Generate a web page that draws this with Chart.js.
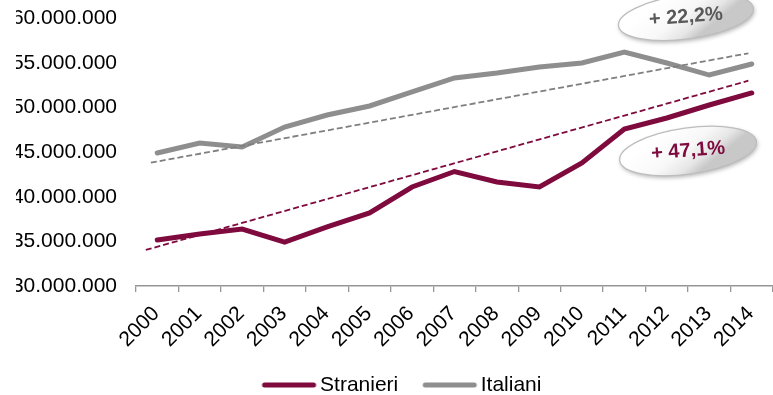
<!DOCTYPE html>
<html lang="it">
<head>
<meta charset="utf-8">
<title>Stranieri e Italiani 2000-2014</title>
<script src="https://cdn.jsdelivr.net/npm/chart.js@4.4.1/dist/chart.umd.min.js"></script>
<style>
html,body{margin:0;padding:0;background:#ffffff;overflow:hidden;}
#wrap{width:773px;height:395px;}
canvas{display:block;}
</style>
</head>
<body>
<div id="wrap"><canvas id="chart" width="773" height="395"></canvas></div>
<script>
// ---- data ----
const years = ['2000','2001','2002','2003','2004','2005','2006','2007','2008','2009','2010','2011','2012','2013','2014'];
const stranieri = [35160000, 35830000, 36390000, 34930000, 36620000, 38190000, 41100000, 42840000, 41660000, 41100000, 43790000, 47610000, 48840000, 50300000, 51650000];
const italiani  = [44920000, 46040000, 45590000, 47830000, 49180000, 50190000, 51760000, 53330000, 53890000, 54560000, 55010000, 56240000, 55010000, 53660000, 54900000];
const trendStranieri = [{x: -0.27, y: 34040000}, {x: 13.92, y: 53020000}];
const trendItaliani  = [{x: -0.15, y: 43830000}, {x: 13.92, y: 56100000}];
const seriesNames = ['Stranieri', 'Italiani'];
const growthLabels = ['+ 22,2%', '+ 47,1%'];
const yMin = 30000000, yMax = 60000000, yStep = 5000000;

// ---- styles ----
const MAROON = '#7E0A3E';
const GREY = '#8E8E8E';
const FONT = "'Liberation Sans', Arial, sans-serif";

function fmt(v) {
  return String(Math.round(v)).replace(/\B(?=(\d{3})+(?!\d))/g, '.');
}

function legendLine(color) {
  const c = document.createElement('canvas');
  c.width = 80; c.height = 10;
  const g = c.getContext('2d');
  g.strokeStyle = color; g.lineWidth = 5; g.lineCap = 'round';
  g.beginPath(); g.moveTo(26, 5); g.lineTo(75, 5); g.stroke();
  return c;
}
const legendMarks = [legendLine(MAROON), legendLine(GREY)];

const badges = [
  {text: growthLabels[0], color: '#595959', at: [12.45, 60170000], rx: 68, ry: 22, tilt: -0.13, textTilt: -0.08},
  {text: growthLabels[1], color: MAROON,   at: [12.50, 45140000], rx: 69, ry: 23, tilt: -0.14, textTilt: -0.08}
];

const badgePlugin = {
  id: 'badges',
  afterDatasetsDraw(chart) {
    const ctx = chart.ctx;
    const xs = chart.scales.xt, ys = chart.scales.y;
    badges.forEach(b => {
      const cx = xs.getPixelForValue(b.at[0]);
      const cy = ys.getPixelForValue(b.at[1]);
      ctx.save();
      ctx.translate(cx, cy);
      ctx.rotate(b.tilt);
      ctx.save();
      ctx.shadowColor = 'rgba(0,0,0,0.30)';
      ctx.shadowBlur = 4; ctx.shadowOffsetX = 1; ctx.shadowOffsetY = 2;
      ctx.beginPath();
      ctx.ellipse(0, 0, b.rx, b.ry, 0, 0, Math.PI * 2);
      const g = ctx.createLinearGradient(-b.rx * 0.3, -b.ry, b.rx * 0.1, b.ry);
      g.addColorStop(0, '#ffffff');
      g.addColorStop(0.5, '#f8f8f8');
      g.addColorStop(0.8, '#e6e6e6');
      g.addColorStop(1, '#c8c8c8');
      ctx.fillStyle = g;
      ctx.fill();
      ctx.restore();
      ctx.lineWidth = 1.3;
      ctx.strokeStyle = '#bdbdbd';
      ctx.stroke();
      ctx.rotate(b.textTilt - b.tilt);
      ctx.fillStyle = b.color;
      ctx.font = 'bold 20px ' + FONT;
      ctx.textAlign = 'center';
      ctx.textBaseline = 'middle';
      ctx.fillText(b.text, 0, 0);
      ctx.restore();
    });
  }
};

Chart.defaults.font.family = FONT;

new Chart(document.getElementById('chart'), {
  type: 'line',
  data: {
    labels: years,
    datasets: [
      {label: seriesNames[0], data: stranieri, borderColor: MAROON, backgroundColor: MAROON,
       borderWidth: 5, pointRadius: 0, tension: 0, borderCapStyle: 'round', borderJoinStyle: 'miter', order: 2},
      {label: seriesNames[1], data: italiani, borderColor: GREY, backgroundColor: GREY,
       borderWidth: 5, pointRadius: 0, tension: 0, borderCapStyle: 'round', borderJoinStyle: 'miter', order: 3},
      {label: 'trend-s', data: trendStranieri, xAxisID: 'xt', borderColor: MAROON,
       borderWidth: 1.8, borderDash: [6, 3], pointRadius: 0, order: 1},
      {label: 'trend-i', data: trendItaliani, xAxisID: 'xt', borderColor: '#7f7f7f',
       borderWidth: 1.8, borderDash: [6, 3], pointRadius: 0, order: 1}
    ]
  },
  options: {
    responsive: false,
    animation: false,
    events: [],
    layout: {padding: {top: 18.5, left: 16, right: 0, bottom: -10.5}},
    scales: {
      x: {
        type: 'category',
        offset: true,
        grid: {display: true, drawOnChartArea: false, drawTicks: true, tickLength: 6, color: '#969696', lineWidth: 1.3, offset: true},
        border: {display: true, color: '#969696', width: 1.5},
        ticks: {font: {size: 21}, color: '#000000', minRotation: 45, maxRotation: 45, autoSkip: false, padding: 9.5, labelOffset: -1},
        afterFit(s) { s.paddingLeft = 0; s.paddingRight = 0; s.height = 78.5; }
      },
      xt: {type: 'linear', min: -0.5, max: 14.5, display: false},
      y: {
        min: yMin, max: yMax,
        grid: {display: false, drawTicks: false},
        border: {display: false},
        ticks: {stepSize: yStep, font: {size: 21}, color: '#000000', padding: 19, callback: v => fmt(v)},
        afterFit(s) { s.width = 120; s.paddingTop = 0; s.paddingBottom = 0; }
      }
    },
    plugins: {
      tooltip: {enabled: false},
      legend: {
        position: 'bottom',
        labels: {
          font: {size: 21}, color: '#000000', usePointStyle: true, pointStyleWidth: 62, padding: 10,
          filter: item => item.datasetIndex < 2,
          generateLabels(chart) {
            const items = Chart.defaults.plugins.legend.labels.generateLabels(chart);
            items.forEach(it => { if (it.datasetIndex < 2) it.pointStyle = legendMarks[it.datasetIndex]; });
            return items;
          }
        }
      }
    }
  },
  plugins: [badgePlugin]
});
</script>
</body>
</html>
